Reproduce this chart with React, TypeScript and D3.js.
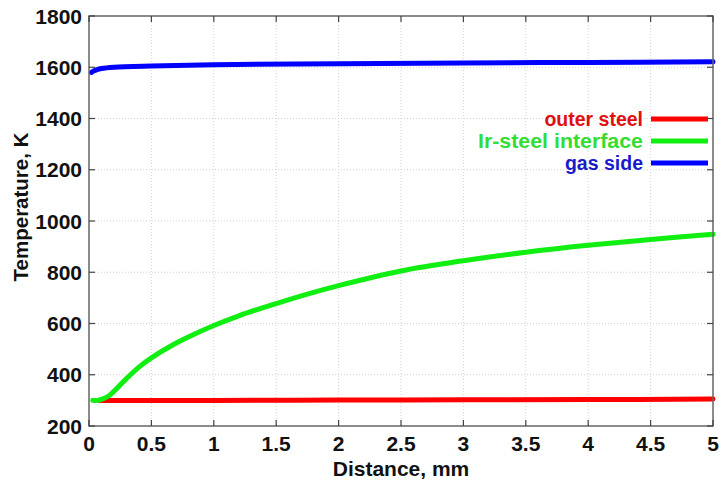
import React from "react";
import * as d3 from "d3";

const xTicks = [0, 0.5, 1, 1.5, 2, 2.5, 3, 3.5, 4, 4.5, 5];
const yTicks = [200, 400, 600, 800, 1000, 1200, 1400, 1600, 1800];

const outerX = [0.08, 0.5, 1, 2, 3, 4, 5];
const outerY = [300, 300, 300, 301, 302, 303, 305];

const ifaceX = [0.03, 0.07, 0.1, 0.16, 0.22, 0.3, 0.4, 0.5, 0.67, 0.8, 1, 1.2, 1.5, 1.75, 2, 2.5, 3, 3.5, 4, 4.5, 5];
const ifaceY = [300, 300, 304, 318, 345, 385, 430, 466, 516, 548, 592, 630, 678, 715, 748, 805, 845, 878, 905, 928, 948];

const gasX = [0.02, 0.04, 0.06, 0.1, 0.2, 0.5, 1, 2, 3, 4, 5];
const gasY = [1580, 1586, 1590, 1595, 1600, 1605, 1610, 1614, 1617, 1619, 1621];

const seriesNames = ["outer steel", "Ir-steel interface", "gas side"];
const lineColors = ["#ff0000", "#11ee11", "#0000ff"];
const textColors = ["#e01010", "#33dd33", "#1a1acc"];

const W = 722, H = 487;
const M = { left: 89, right: 713, top: 16, bottom: 426 };
const FONT = "'Liberation Sans', Arial, Helvetica, sans-serif";

export default function App() {
  const x = d3.scaleLinear().domain([0, 5]).range([M.left, M.right]);
  const y = d3.scaleLinear().domain([200, 1800]).range([M.bottom, M.top]);
  const line = d3.line<[number, number]>().x(d => x(d[0])).y(d => y(d[1])).curve(d3.curveCatmullRom.alpha(0.5));
  const series: [number, number][][] = [
    outerX.map((v, i) => [v, outerY[i]]),
    ifaceX.map((v, i) => [v, ifaceY[i]]),
    gasX.map((v, i) => [v, gasY[i]]),
  ];
  const tl = 6;
  return (
    <svg width={W} height={H} style={{ position: "absolute", left: 0, top: 0, background: "#fff" }}>
      <rect x={0} y={0} width={W} height={H} fill="#fff" />
      {xTicks.slice(1, -1).map(t => (
        <line key={"gx" + t} x1={x(t)} x2={x(t)} y1={M.top} y2={M.bottom} stroke="#c8c8c8" strokeWidth={0.8} strokeDasharray="1,2" />
      ))}
      {yTicks.slice(1, -1).map(t => (
        <line key={"gy" + t} x1={M.left} x2={M.right} y1={y(t)} y2={y(t)} stroke="#c8c8c8" strokeWidth={0.8} strokeDasharray="1,2" />
      ))}
      {series.map((s, i) => (
        <path key={i} d={line(s) || ""} fill="none" stroke={lineColors[i]} strokeWidth={5} strokeLinecap="round" strokeLinejoin="round" />
      ))}
      <rect x={M.left} y={M.top} width={M.right - M.left} height={M.bottom - M.top} fill="none" stroke="#666" strokeWidth={1.5} />
      {xTicks.map(t => (
        <g key={"tx" + t}>
          <line x1={x(t)} x2={x(t)} y1={M.bottom} y2={M.bottom - tl} stroke="#444" strokeWidth={1.2} />
          <line x1={x(t)} x2={x(t)} y1={M.top} y2={M.top + tl} stroke="#444" strokeWidth={1.2} />
          <text x={x(t)} y={451} textAnchor="middle" fontFamily={FONT} fontWeight="bold" fontSize={21} fill="#111">{t}</text>
        </g>
      ))}
      {yTicks.map(t => (
        <g key={"ty" + t}>
          <line x1={M.left} x2={M.left + tl} y1={y(t)} y2={y(t)} stroke="#444" strokeWidth={1.2} />
          <line x1={M.right} x2={M.right - tl} y1={y(t)} y2={y(t)} stroke="#444" strokeWidth={1.2} />
          <text x={82} y={y(t) + 7.5} textAnchor="end" fontFamily={FONT} fontWeight="bold" fontSize={21} fill="#111">{t}</text>
        </g>
      ))}
      <text x={401} y={476} textAnchor="middle" fontFamily={FONT} fontWeight="bold" fontSize={21} fill="#111">Distance, mm</text>
      <text transform={`translate(28,207) rotate(-90)`} textAnchor="middle" fontFamily={FONT} fontWeight="bold" fontSize={20.5} fill="#111">Temperature, K</text>
      {seriesNames.map((n, i) => {
        const ly = 119 + i * 22;
        return (
          <g key={n}>
            <text x={643} y={ly + 6.5} textAnchor="end" fontFamily={FONT} fontWeight="bold" fontSize={19.5} fill={textColors[i]}
              textLength={i === 1 ? 165 : undefined} lengthAdjust="spacingAndGlyphs">{n}</text>
            <line x1={651} x2={708} y1={ly} y2={ly} stroke={lineColors[i]} strokeWidth={5} />
          </g>
        );
      })}
    </svg>
  );
}
